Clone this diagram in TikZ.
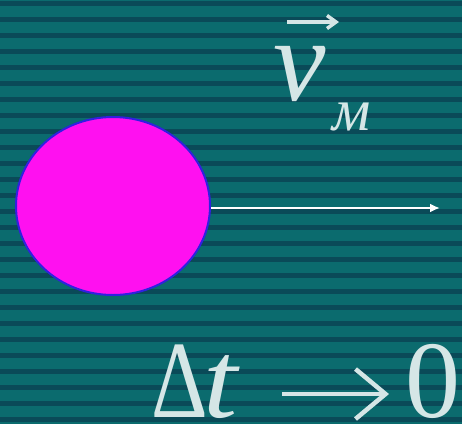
\documentclass[tikz,border=0pt]{standalone}
\usepackage{fontspec}
\setmainfont{Liberation Serif}
\usetikzlibrary{shapes.geometric,arrows.meta}
\begin{document}
\begin{tikzpicture}[x=1pt,y=-1pt,
  txt/.style={text=textgray,inner sep=0pt},
  ]
\definecolor{bglight}{HTML}{0B6B6E}
\definecolor{bgdark}{HTML}{0A4A58}
\definecolor{textgray}{HTML}{D5E6E6}
\definecolor{ballfill}{HTML}{FF10F0}
\definecolor{ballline}{HTML}{3020E0}
\useasboundingbox (0,0) rectangle (462,424);
\fill[bglight] (0,0) rectangle (462,424);
\foreach \i in {0,...,26}{
  \fill[bgdark] (0,{0.5+16*\i}) rectangle (462,{5.5+16*\i});
}
\node[ellipse,draw=ballline,line width=2pt,fill=ballfill,minimum width=194pt,minimum height=178pt,inner sep=0pt] (ball) at (113,206) {};
\coordinate (tip) at (440,208);
\draw[white,line width=2.5pt,-{Latex[length=10pt,width=9pt]}] (ball.east |- 0,208) -- (tip);
\node[txt,font=\itshape\fontsize{118}{118}\selectfont,anchor=base] (v) at (300,100) {v};
\coordinate (va) at (287,22);
\coordinate (vb) at (339,22);
\draw[textgray,line width=3.5pt,-{Straight Barb[length=9pt,width=13pt]}] (va) -- (vb);
\node[txt,font=\itshape\fontsize{60}{60}\selectfont,anchor=base] (sub) at (352,130) {м};
\node[txt,font=\fontsize{110}{110}\selectfont,anchor=base west,xscale=0.8] (delta) at (151,417) {Δ};
\node[txt,font=\itshape\fontsize{110}{110}\selectfont,anchor=base west,xscale=1.12] (t) at (203,417) {t};
\coordinate (aa) at (282,394);
\coordinate (ab) at (389,394);
\node[txt,font=\fontsize{110}{110}\selectfont,anchor=base west] (zero) at (405,417) {0};
\draw[textgray,line width=4.5pt,-{Straight Barb[length=30pt,width=50pt]}] (aa) -- (ab);
\end{tikzpicture}
\end{document}
